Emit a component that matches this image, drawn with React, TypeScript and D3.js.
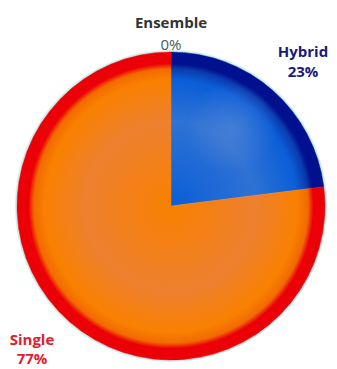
import React from "react";
import * as d3 from "d3";

const categories = ["Ensemble", "Hybrid", "Single"];
const values = [0, 23, 77];
const percentLabels = ["0%", "23%", "77%"];

const W = 337, H = 369;
const cx = 171, cy = 206, R = 154;

const fills: Record<string, { inner: string; mid: string; edge: string; rim: string; text: string; pct: string }> = {
  Ensemble: { inner: "#888", mid: "#777", edge: "#666", rim: "#555", text: "#333333", pct: "#4a5a50" },
  Hybrid: { inner: "#2f72d4", mid: "#0a5ed8", edge: "#0a3cb0", rim: "#00108e", text: "#1a1a7a", pct: "#1a1a7a" },
  Single: { inner: "#ee8030", mid: "#f98000", edge: "#f26a00", rim: "#ec0008", text: "#e02030", pct: "#e02030" },
};

// label positions (x, baseline y of first line, line gap) relative to chart center
const labelPos: Record<string, [number, number, number]> = {
  Ensemble: [0, -178, 22],
  Hybrid: [132, -149, 20],
  Single: [-139, 139, 19],
};

export default function App() {
  const data = categories.map((c, i) => ({ cat: c, value: values[i], pct: percentLabels[i] }));
  const pie = d3.pie<any>().sort(null).value((d: any) => d.value);
  const arcs = pie(data);
  const arc = d3.arc<any>().innerRadius(0).outerRadius(R);
  const font = "'Open Sans', sans-serif";
  return (
    <svg width={W} height={H} style={{ position: "absolute", left: 0, top: 0 }}>
      <defs>
        {categories.map((c) => (
          <radialGradient key={c} id={`g-${c}`} cx={0} cy={0} r={R} gradientUnits="userSpaceOnUse">
            <stop offset="0" stopColor={fills[c].mid} />
            <stop offset="0.55" stopColor={fills[c].inner} />
            <stop offset="0.82" stopColor={fills[c].mid} />
            <stop offset="0.89" stopColor={fills[c].edge} />
            <stop offset="0.925" stopColor={fills[c].rim} />
            <stop offset="1" stopColor={fills[c].rim} />
          </radialGradient>
        ))}
        <radialGradient id="hl" cx={232} cy={128} r={45} gradientUnits="userSpaceOnUse">
          <stop offset="0" stopColor="#5a8ad8" stopOpacity={0.6} />
          <stop offset="1" stopColor="#5a8ad8" stopOpacity={0} />
        </radialGradient>
        <clipPath id="hybClip">
          <path d={arc(arcs[1]) || ""} transform={`translate(${cx},${cy})`} />
        </clipPath>
      </defs>
      <circle cx={cx} cy={cy} r={R + 1} fill="none" stroke="#c8f2f0" strokeWidth={2} />
      <g transform={`translate(${cx},${cy})`}>
        {arcs.map((a) => (
          a.value > 0 ? <path key={a.data.cat} d={arc(a) || ""} fill={`url(#g-${a.data.cat})`} stroke={`url(#g-${a.data.cat})`} strokeWidth={0.5} /> : null
        ))}
      </g>
      <circle cx={232} cy={128} r={45} fill="url(#hl)" clipPath="url(#hybClip)" />
      {arcs.map((a) => {
        const c = a.data.cat;
        const [dx, dy, gap] = labelPos[c];
        return (
          <g key={"l" + c} fontFamily={font} fontSize={15} textAnchor="middle">
            <text x={cx + dx} y={cy + dy} fontWeight="bold" fill={fills[c].text}>{c}</text>
            <text x={cx + dx} y={cy + dy + gap} fontWeight={c === "Ensemble" ? "normal" : "bold"} fill={fills[c].pct}>{a.data.pct}</text>
          </g>
        );
      })}
    </svg>
  );
}
